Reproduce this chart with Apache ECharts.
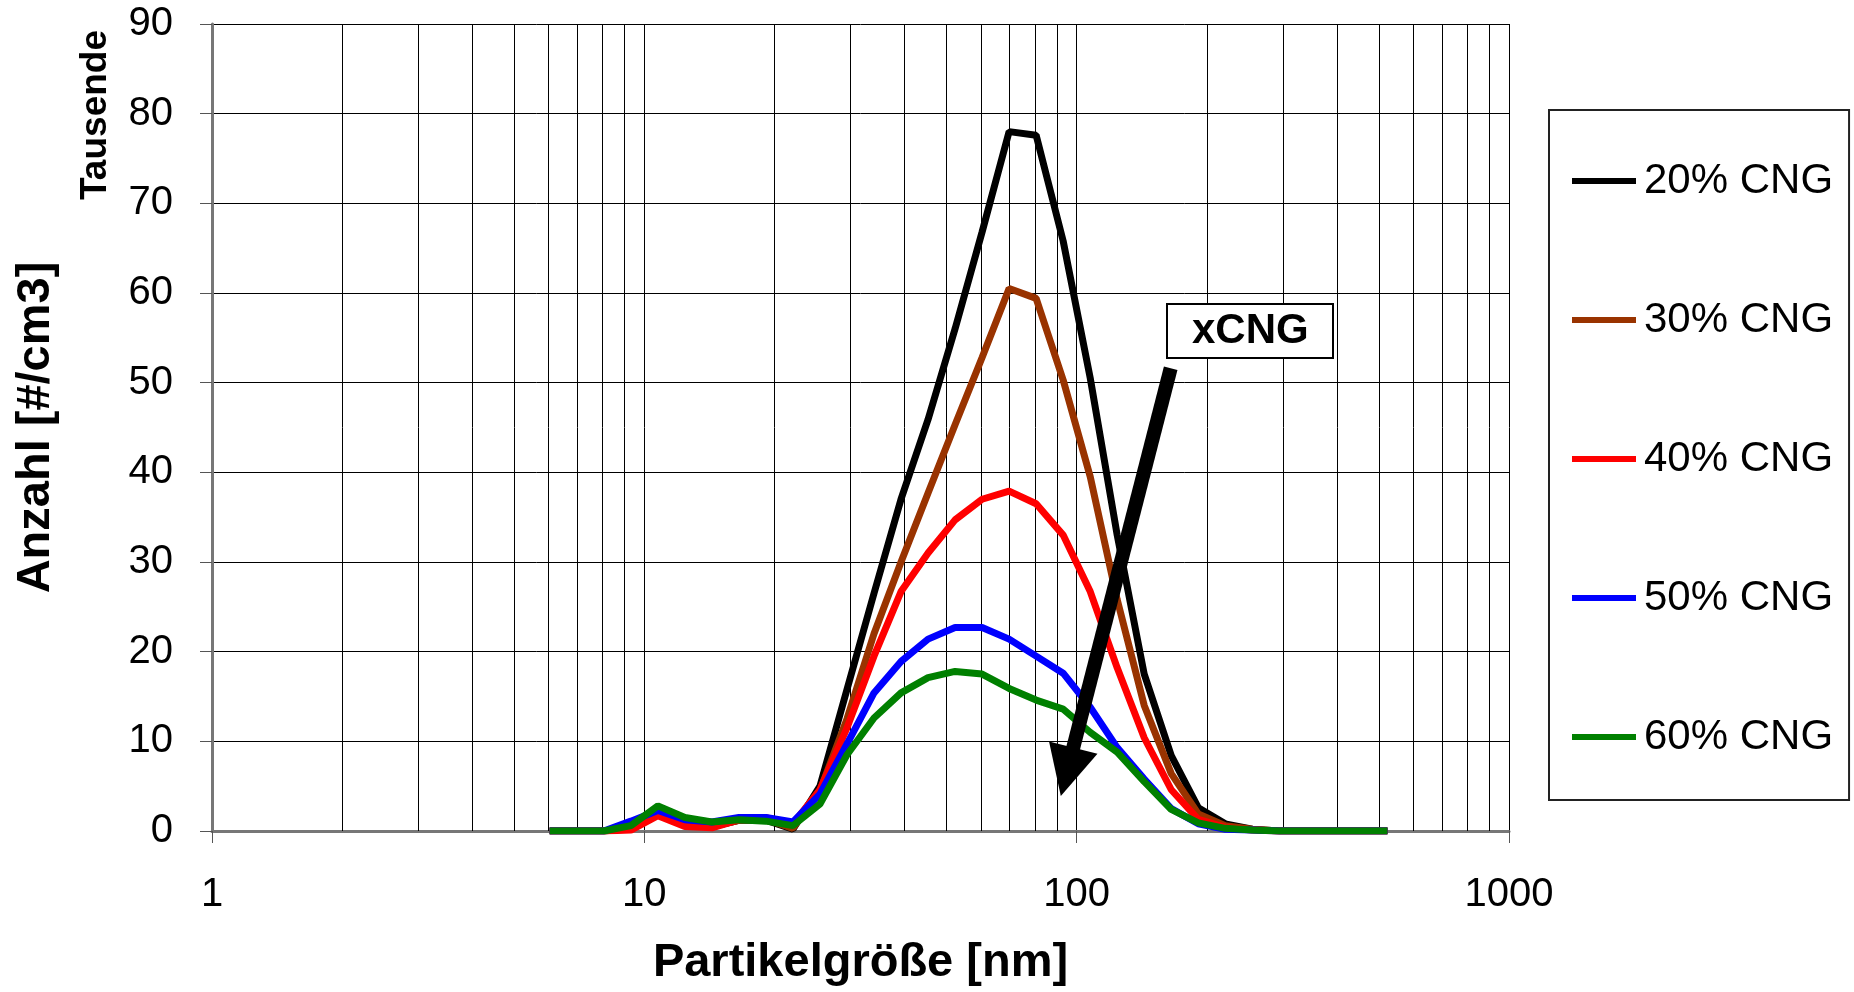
<!DOCTYPE html>
<html>
<head>
<meta charset="utf-8">
<script src="https://cdn.jsdelivr.net/npm/echarts@6/dist/echarts.min.js"></script>
<style>
	html, body { margin: 0; padding: 0; background: #fff; }
	#main { width: 1854px; height: 992px; }
</style>
</head>
<body>
<div id="main"></div>
<script type="text/javascript">
	// Partikelgröße [nm] (x) und Anzahl in Tausend (y)
	var sizes = [6.04, 6.98, 8.06, 9.31, 10.75, 12.41, 14.33, 16.55, 19.11, 22.07, 25.48, 29.43, 33.98, 39.24, 45.32, 52.33,
		60.43, 69.78, 80.58, 93.06, 107.5, 124.1, 143.3, 165.5, 191.1, 220.7, 254.8, 294.3, 339.8, 392.4, 453.2, 523.3];
	var cng20 = [0, 0, 0, 0.3, 2.4, 0.8, 0.5, 1.2, 1.2, 0.2, 5.0, 15.8, 26.5, 37.0, 45.9, 56.0, 66.8, 78.0, 77.6, 65.8, 50.5, 33.0, 17.5, 8.4, 2.6, 0.8, 0.2, 0, 0, 0, 0, 0];
	var cng30 = [0, 0, 0, 0.3, 2.3, 0.8, 0.5, 1.2, 1.3, 0.3, 4.5, 12.5, 22.0, 30.0, 37.7, 45.3, 52.8, 60.5, 59.4, 50.3, 39.5, 25.8, 14.0, 6.4, 1.9, 0.6, 0.2, 0, 0, 0, 0, 0];
	var cng40 = [0, 0, 0, 0.1, 1.7, 0.5, 0.35, 1.25, 1.5, 0.8, 4.6, 11.5, 19.5, 26.7, 31.0, 34.7, 37.0, 37.9, 36.5, 33.0, 26.7, 18.2, 10.4, 4.6, 1.3, 0.4, 0.1, 0, 0, 0, 0, 0];
	var cng50 = [0, 0, 0, 1.1, 2.3, 1.25, 1.0, 1.5, 1.5, 1.0, 4.1, 9.7, 15.4, 18.9, 21.4, 22.7, 22.7, 21.4, 19.5, 17.6, 13.8, 9.3, 5.8, 2.5, 0.8, 0.2, 0.1, 0, 0, 0, 0, 0];
	var cng60 = [0, 0, 0, 0.6, 2.8, 1.5, 1.0, 1.25, 1.1, 0.6, 3.0, 8.5, 12.6, 15.4, 17.1, 17.8, 17.5, 15.9, 14.6, 13.6, 11.0, 8.8, 5.5, 2.4, 0.9, 0.3, 0.1, 0, 0, 0, 0, 0];
	var names = ['20% CNG', '30% CNG', '40% CNG', '50% CNG', '60% CNG'];
	var colors = ['#000000', '#993300', '#ff0000', '#0000ff', '#008000'];
	// Nebengitterlinien der log-Achse
	var minorX = [2, 3, 4, 5, 6, 7, 8, 9, 20, 30, 40, 50, 60, 70, 80, 90, 200, 300, 400, 500, 600, 700, 800, 900];
	// Pfeil "xCNG" (Start / Spitze in Datenkoordinaten)
	var arrowFrom = [165, 51.6];
	var arrowTo = [95, 6.6];

	var font = 'Liberation Sans, Arial, sans-serif';

	function pairs(ys) {
		return sizes.map(function (x, i) { return [x, ys[i]]; });
	}

	var allData = [cng20, cng30, cng40, cng50, cng60];
	var series = allData.map(function (ys, i) {
		return {
			name: names[i],
			type: 'line',
			data: pairs(ys),
			symbol: 'none',
			lineStyle: { width: 7, color: colors[i] },
			itemStyle: { color: colors[i] },
			z: 2
		};
	});

	// Gitterlinien für 2..9, 20..90, 200..900
	series[0].markLine = {
		silent: true,
		z: 1,
		symbol: ['none', 'none'],
		label: { show: false },
		lineStyle: { color: '#000', width: 1, type: 'solid' },
		emphasis: { disabled: true },
		data: minorX.map(function (v) { return { xAxis: v }; })
	};
	// Pfeil
	series[4].markLine = {
		silent: true,
		z: 6,
		symbol: ['none', 'triangle'],
		symbolSize: 50,
		label: { show: false },
		lineStyle: { color: '#000', width: 14, type: 'solid', opacity: 1 },
		itemStyle: { color: '#000' },
		emphasis: { disabled: true },
		data: [[{ coord: arrowFrom }, { coord: arrowTo }]]
	};

	var myChart = echarts.init(document.getElementById('main'));
	myChart.setOption({
		animation: false,
		color: colors,
		textStyle: { fontFamily: font },
		title: {
			text: 'xCNG',
			left: 1167,
			top: 304,
			padding: [6, 25],
			borderWidth: 2,
			borderColor: '#000',
			backgroundColor: '#fff',
			textStyle: { fontFamily: font, fontSize: 42, fontWeight: 'bold', color: '#000', lineHeight: 42 }
		},
		legend: {
			orient: 'vertical',
			left: 1549,
			top: 110,
			padding: [50, 16, 42, 23],
			borderWidth: 2,
			borderColor: '#222',
			itemGap: 97,
			itemWidth: 64,
			itemHeight: 6,
			icon: 'rect',
			textStyle: { fontFamily: font, fontSize: 42, color: '#000', lineHeight: 41, padding: [0, 0, 0, 3] },
			data: names
		},
		grid: { left: 212, right: 345, top: 24, bottom: 151, containLabel: false },
		xAxis: {
			type: 'log',
			logBase: 10,
			min: 1,
			max: 1000,
			name: 'Partikelgröße [nm]',
			nameLocation: 'middle',
			nameGap: 109,
			nameTextStyle: { fontFamily: font, fontSize: 47, fontWeight: 'bold', color: '#000' },
			axisLine: { show: true, onZero: false, lineStyle: { color: '#777', width: 3 } },
			axisTick: { show: true, length: 12, lineStyle: { color: '#555', width: 1 } },
			axisLabel: {
				fontFamily: font, fontSize: 40, color: '#000', margin: 44,
				formatter: function (v) { return String(Math.round(v)); }
			},
			splitLine: { show: true, lineStyle: { color: '#000', width: 1 } },
			minorTick: { show: false },
			minorSplitLine: { show: false }
		},
		yAxis: {
			type: 'value',
			min: 0,
			max: 90,
			interval: 10,
			name: 'Anzahl [#/cm3]',
			nameLocation: 'middle',
			nameRotate: 90,
			nameGap: 152,
			nameTextStyle: { fontFamily: font, fontSize: 47, fontWeight: 'bold', color: '#000' },
			axisLine: { show: true, lineStyle: { color: '#777', width: 3 } },
			axisTick: { show: true, length: 12, lineStyle: { color: '#555', width: 1 } },
			axisLabel: { fontFamily: font, fontSize: 40, color: '#000', margin: 39 },
			splitLine: { show: true, lineStyle: { color: '#000', width: 1 } }
		},
		graphic: [{
			type: 'text',
			x: 96,
			y: 115,
			rotation: Math.PI / 2,
			style: {
				text: 'Tausende',
				font: 'bold 37px ' + font,
				fill: '#000',
				align: 'center',
				verticalAlign: 'middle'
			}
		}],
		series: series
	});
</script>
</body>
</html>
